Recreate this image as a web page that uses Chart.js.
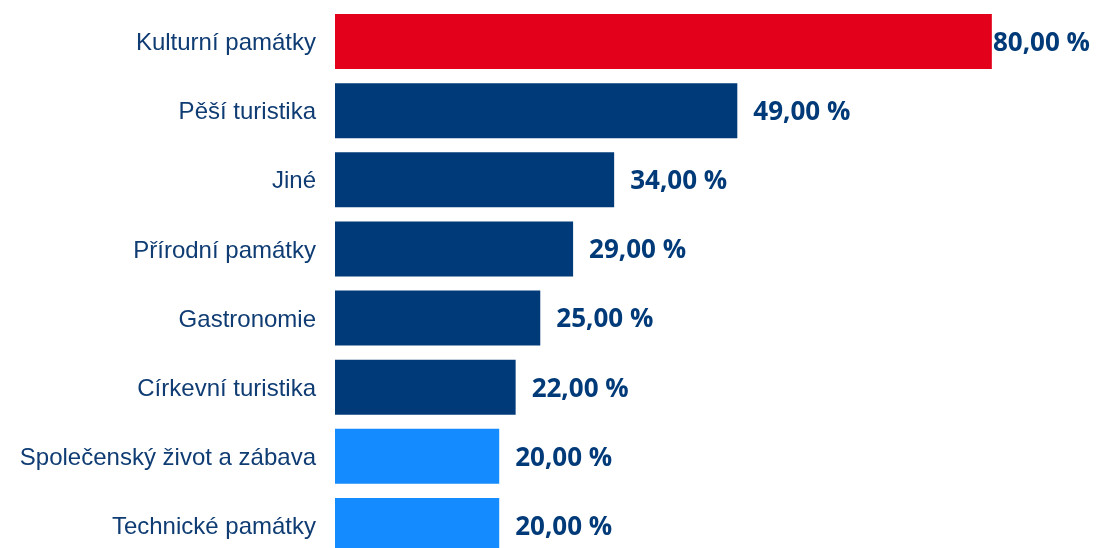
<!DOCTYPE html>
<html>
<head>
<meta charset="utf-8">
<script src="https://cdn.jsdelivr.net/npm/chart.js@4"></script>
<style>
    html, body { margin: 0; padding: 0; overflow: hidden; background: #fff; }
    #wrap { width: 1115px; height: 560px; position: relative; }
</style>
</head>
<body>
<div id="wrap"><canvas id="chart1"></canvas></div>
<script>
// data
const categories = [
    'Kulturní památky',
    'Pěší turistika',
    'Jiné',
    'Přírodní památky',
    'Gastronomie',
    'Církevní turistika',
    'Společenský život a zábava',
    'Technické památky'
];
const values = [80, 49, 34, 29, 25, 22, 20, 20];
const barColors = ['#E3001B', '#003A78', '#003A78', '#003A78', '#003A78', '#003A78', '#148CFF', '#148CFF'];

const formatValue = v => v.toFixed(2).replace('.', ',') + ' %';

// value labels at the end of each bar
const valueLabels = {
    id: 'valueLabels',
    afterDatasetsDraw(chart) {
        const ctx = chart.ctx;
        const meta = chart.getDatasetMeta(0);
        ctx.save();
        ctx.font = 'bold 26px "Open Sans"';
        ctx.fillStyle = '#003A78';
        ctx.textBaseline = 'middle';
        ctx.textAlign = 'left';
        meta.data.forEach((bar, i) => {
            const text = formatValue(values[i]);
            const w = ctx.measureText(text).width;
            let x = bar.x + 16;
            if (x + w > chart.width - 25) x = chart.width - 25 - w;
            ctx.fillText(text, x, bar.y + 2);
        });
        ctx.restore();
    }
};

const ctx = document.getElementById('chart1').getContext('2d');

const config = {
    type: 'bar',
    data: {
        labels: categories,
        datasets: [{
            data: values,
            backgroundColor: barColors,
            borderWidth: 0,
            barPercentage: 0.795,
            categoryPercentage: 1,
        }]
    },
    options: {
        indexAxis: 'y',
        responsive: true,
        maintainAspectRatio: false,
        animation: false,
        layout: { padding: { top: 7, right: 0, bottom: 0, left: 0 } },
        plugins: {
            legend: { display: false },
            tooltip: { enabled: false },
        },
        scales: {
            x: {
                display: false,
                min: 0,
                max: 95,
            },
            y: {
                border: { display: false },
                grid: { display: false, drawTicks: false },
                ticks: {
                    color: '#0F3C73',
                    padding: 19,
                    labelOffset: 2,
                    font: { family: '"Liberation Sans", Arial, sans-serif', size: 24 },
                },
                afterFit(scale) {
                    scale.width = 335;
                    scale.paddingTop = 0;
                    scale.paddingBottom = 0;
                },
            }
        }
    },
    plugins: [valueLabels],
};

const myChart = new Chart(ctx, config);
</script>
</body>
</html>
